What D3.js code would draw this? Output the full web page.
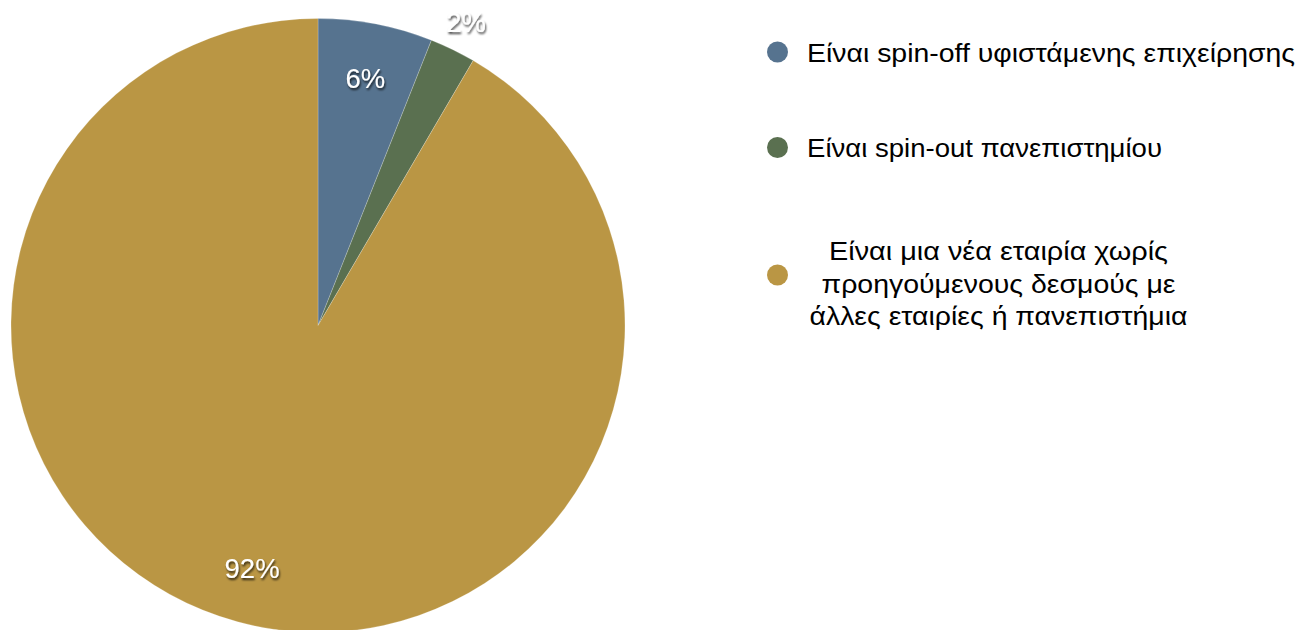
<!DOCTYPE html>
<html>
<head>
<meta charset="utf-8">
<script src="https://cdn.jsdelivr.net/npm/d3@7/dist/d3.min.js"></script>
<style>
  html, body { margin: 0; padding: 0; background: #fff; }
  svg { display: block; }
  text { font-family: "Liberation Sans", Arial, Helvetica, sans-serif; }
</style>
</head>
<body>
<svg id="chart" width="1316" height="630"></svg>
<script>
// Responses (counts) for each category
const categories = [
  "Είναι spin-off υφιστάμενης επιχείρησης",
  "Είναι spin-out πανεπιστημίου",
  "Είναι μια νέα εταιρία χωρίς προηγούμενους δεσμούς με άλλες εταιρίες ή πανεπιστήμια"
];
const legendLines = [
  ["Είναι spin-off υφιστάμενης επιχείρησης"],
  ["Είναι spin-out πανεπιστημίου"],
  ["Είναι μια νέα εταιρία χωρίς", "προηγούμενους δεσμούς με", "άλλες εταιρίες ή πανεπιστήμια"]
];
const counts = [5, 2, 76];
const colors = ["#56738f", "#5a7050", "#ba9644"];

const svg = d3.select("#chart");
const cx = 318, cy = 325.5, r = 307;

// drop shadow for the percentage labels
const defs = svg.append("defs");
const f = defs.append("filter").attr("id", "shadow")
  .attr("x", "-30%").attr("y", "-30%").attr("width", "160%").attr("height", "160%");
f.append("feDropShadow").attr("dx", 1).attr("dy", 2).attr("stdDeviation", 1.3)
  .attr("flood-color", "#000").attr("flood-opacity", 0.75);

const total = d3.sum(counts);
const pie = d3.pie().sort(null).value(d => d)(counts);
const arc = d3.arc().innerRadius(0).outerRadius(r);

const g = svg.append("g").attr("transform", `translate(${cx},${cy})`);
g.selectAll("path.slice").data(pie).join("path")
  .attr("class", "slice")
  .attr("d", arc)
  .attr("fill", (d, i) => colors[i])
  .attr("stroke", "#ffffff")
  .attr("stroke-opacity", 0.35)
  .attr("stroke-width", 0.6);

// percentage labels: inside large enough slices, outside the rim otherwise
const pct = d3.format(".0%");
g.selectAll("text.pct").data(pie).join("text")
  .attr("class", "pct")
  .attr("transform", d => {
    const a = (d.startAngle + d.endAngle) / 2;
    const share = (d.endAngle - d.startAngle) / (2 * Math.PI);
    const rr = share < 0.04 ? r * 1.1 : r * 0.82;
    return `translate(${Math.sin(a) * rr},${-Math.cos(a) * rr})`;
  })
  .attr("text-anchor", "middle")
  .attr("dy", "0.36em")
  .attr("font-size", 27.5)
  .attr("fill", "#ffffff")
  .attr("filter", "url(#shadow)")
  .text(d => pct(d.value / total));

// legend: marker circle plus one or more centred lines of text
const markerY = [52, 147.5, 275];
const baselines = [[62], [157], [260, 292.5, 325]];
const lineWidths = [[488], [355], [339, 354, 378]];
const lg = svg.append("g");
categories.forEach((c, i) => {
  lg.append("circle").attr("cx", 777.5).attr("cy", markerY[i]).attr("r", 10.5)
    .attr("fill", colors[i]);
  const lines = legendLines[i];
  lines.forEach((ln, k) => {
    const t = lg.append("text")
      .attr("font-size", 26)
      .attr("fill", "#000")
      .attr("y", baselines[i][k])
      .attr("textLength", lineWidths[i][k])
      .attr("lengthAdjust", "spacingAndGlyphs")
      .text(ln);
    if (lines.length === 1) {
      t.attr("x", 807);
    } else {
      t.attr("x", 998.5).attr("text-anchor", "middle");
    }
  });
});
</script>
</body>
</html>
